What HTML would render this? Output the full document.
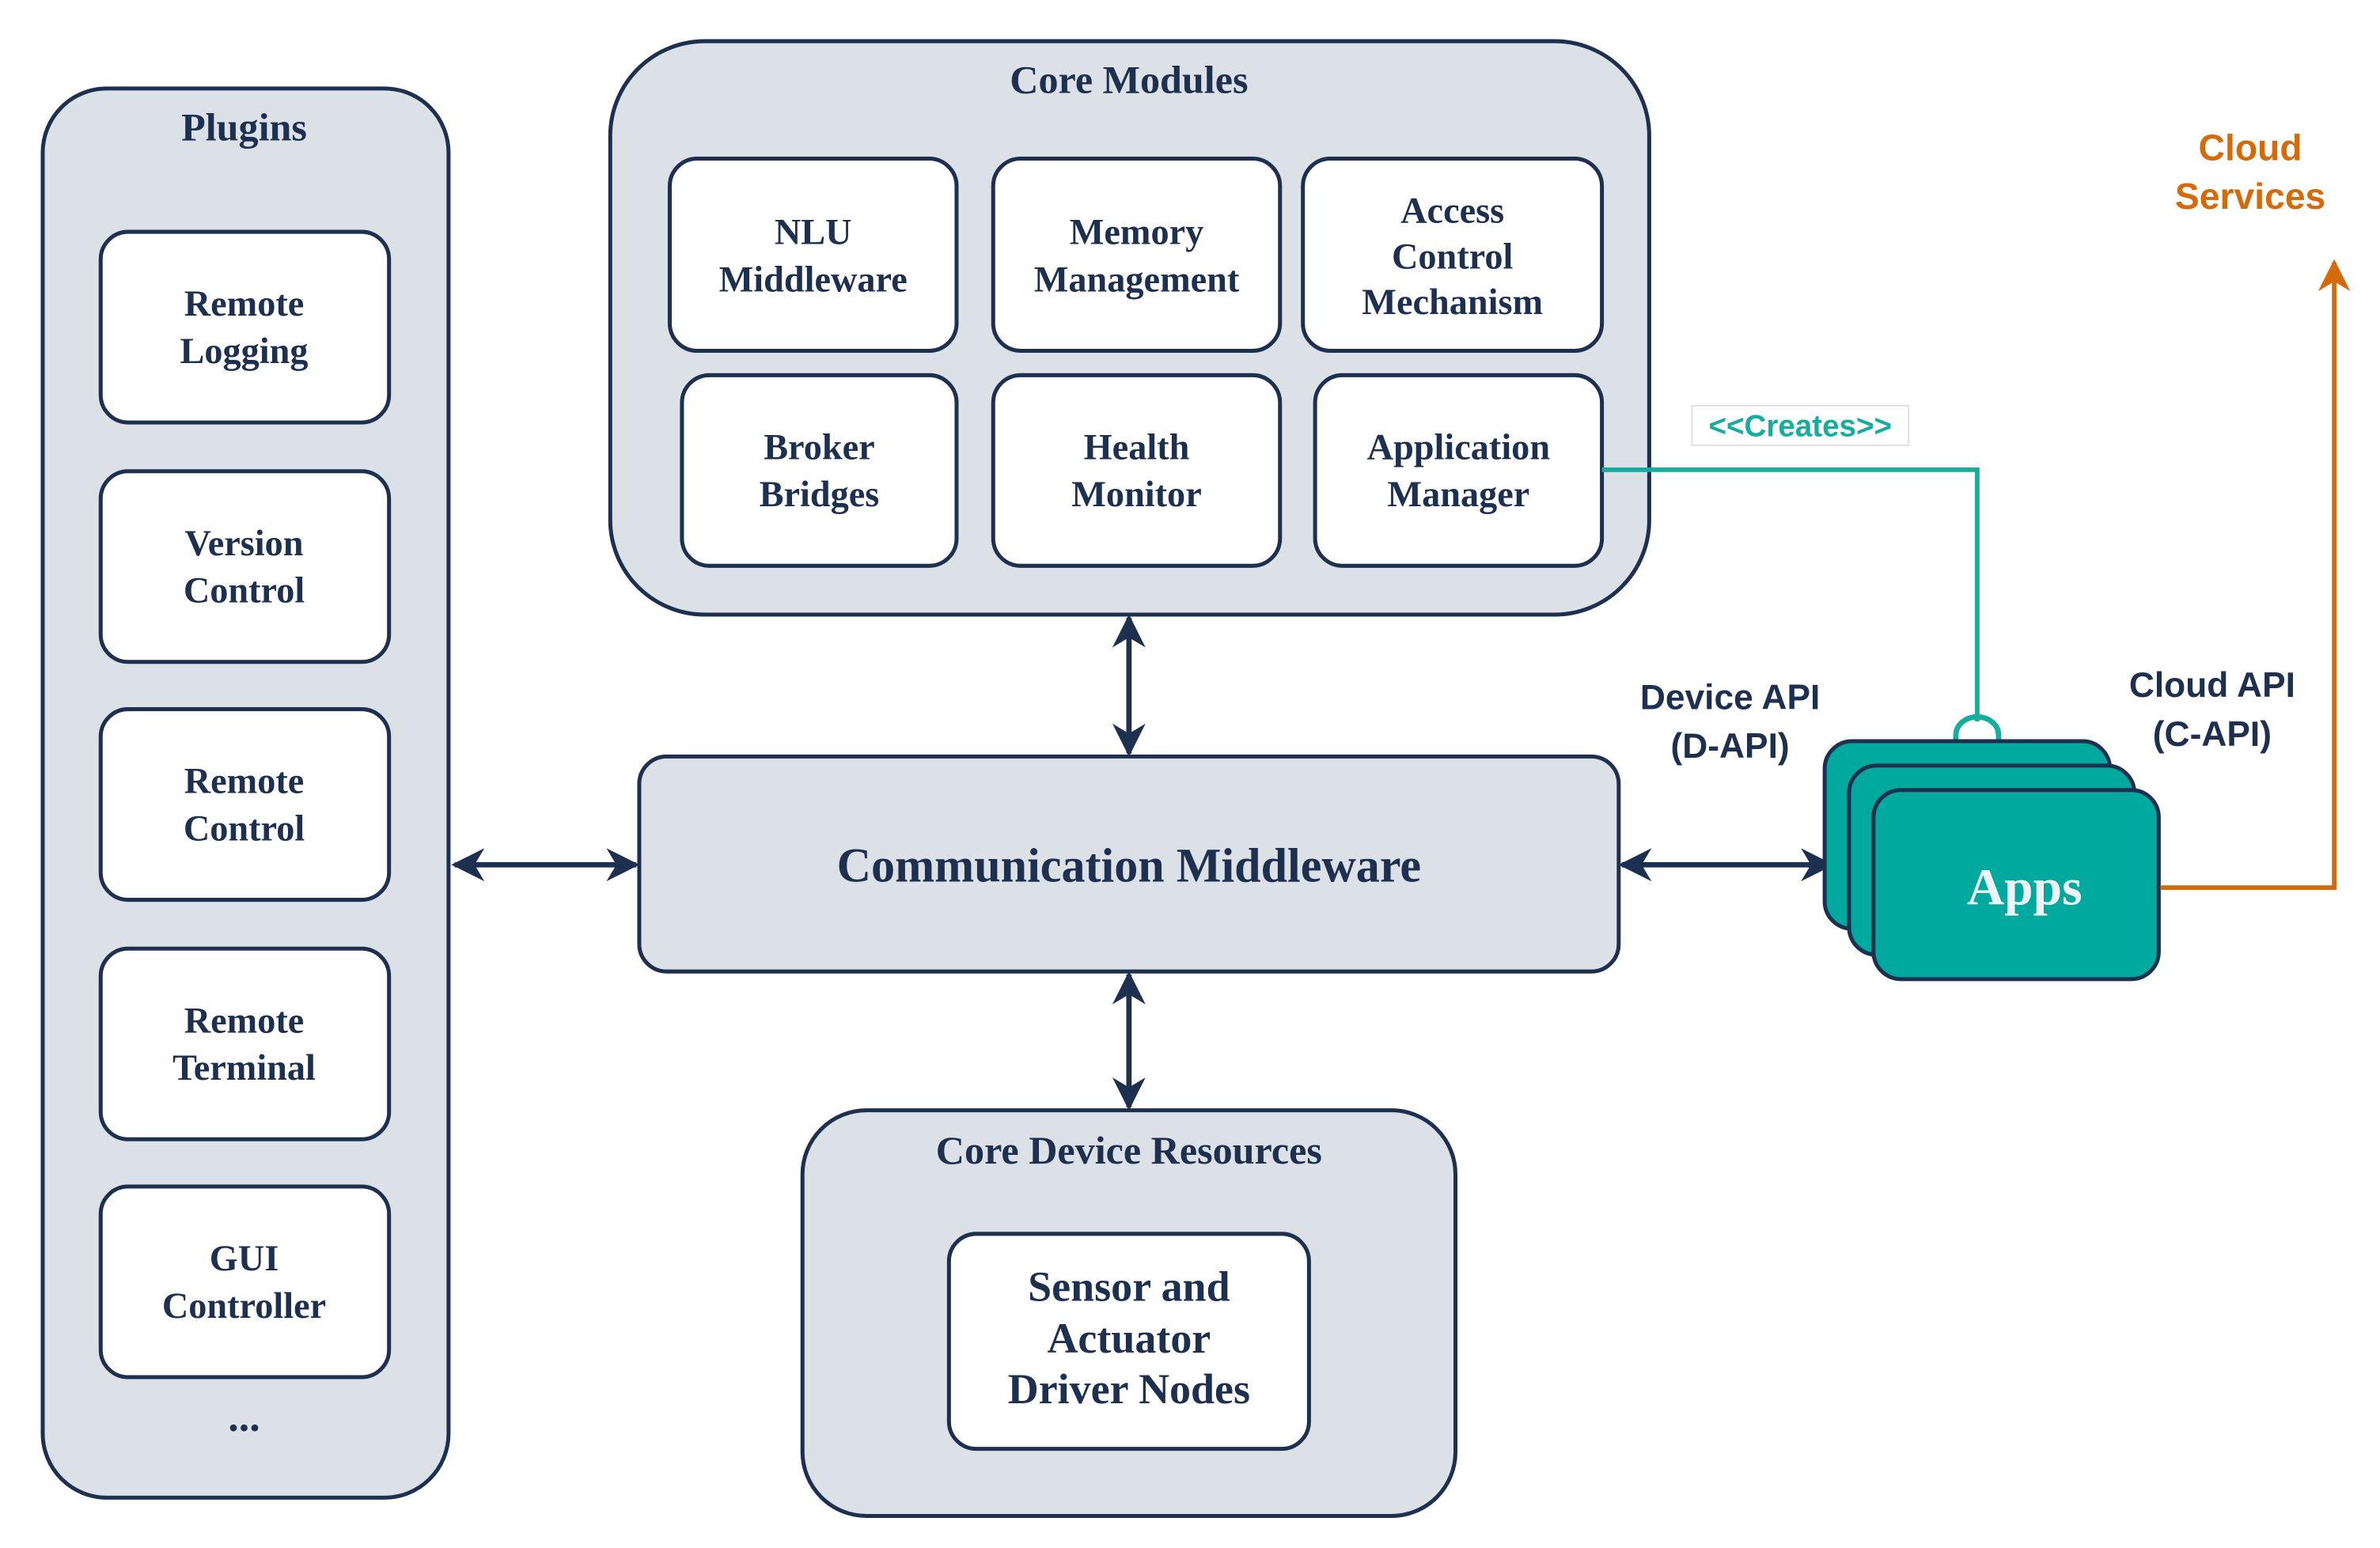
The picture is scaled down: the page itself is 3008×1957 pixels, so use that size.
<!DOCTYPE html>
<html><head><meta charset="utf-8"><style>
html,body{margin:0;padding:0;background:#fff;}
svg{display:block;}
.t{font-family:"Liberation Serif",serif;font-weight:bold;fill:#1e3050;text-anchor:middle;}
.s{font-family:"Liberation Sans",sans-serif;font-weight:bold;text-anchor:middle;}
</style></head><body>
<svg width="3008" height="1957" viewBox="0 0 1560 1015" preserveAspectRatio="none" xmlns="http://www.w3.org/2000/svg">
<defs>
<marker id="ah" viewBox="0 0 10 10" refX="9" refY="5" markerWidth="6.2" markerHeight="6.2" orient="auto-start-reverse"><path d="M0,0 L10,5 L0,10 L3,5 z" fill="#1e3050"/></marker>
<marker id="ao" viewBox="0 0 10 10" refX="9" refY="5" markerWidth="7" markerHeight="7" orient="auto"><path d="M0,0 L10,5 L0,10 L3,5 z" fill="#d46a0a"/></marker>
</defs>
<g stroke="#1e3050" stroke-width="2.6">
<rect x="28" y="58" width="266" height="924" rx="42" fill="#dce1e8"/>
<rect x="400" y="27" width="681" height="376" rx="62" fill="#dce1e8"/>
<rect x="419" y="496" width="642" height="141" rx="18" fill="#dce1e8"/>
<rect x="526" y="728" width="428" height="266" rx="42" fill="#dce1e8"/>
<g fill="#fff">
<rect x="66" y="152" width="189" height="125" rx="18"/>
<rect x="66" y="309" width="189" height="125" rx="18"/>
<rect x="66" y="465" width="189" height="125" rx="18"/>
<rect x="66" y="622" width="189" height="125" rx="18"/>
<rect x="66" y="778" width="189" height="125" rx="18"/>
<rect x="439" y="104" width="188" height="126" rx="18"/>
<rect x="651" y="104" width="188" height="126" rx="18"/>
<rect x="854" y="104" width="196" height="126" rx="18"/>
<rect x="447" y="246" width="180" height="125" rx="18"/>
<rect x="651" y="246" width="188" height="125" rx="18"/>
<rect x="862" y="246" width="188" height="125" rx="18"/>
<rect x="622" y="809" width="236" height="141" rx="18"/>
</g>
</g>
<g class="t" font-size="26">
<text x="160" y="92">Plugins</text>
<text x="740" y="61">Core Modules</text>
<text x="740" y="763">Core Device Resources</text>
</g>
<g class="t" font-size="24">
<text x="160" y="207">Remote</text><text x="160" y="238">Logging</text>
<text x="160" y="364">Version</text><text x="160" y="395">Control</text>
<text x="160" y="520">Remote</text><text x="160" y="551">Control</text>
<text x="160" y="677">Remote</text><text x="160" y="708">Terminal</text>
<text x="160" y="833">GUI</text><text x="160" y="864">Controller</text>
<text x="160" y="938" font-size="28">...</text>
<text x="533" y="160">NLU</text><text x="533" y="191">Middleware</text>
<text x="745" y="160">Memory</text><text x="745" y="191">Management</text>
<text x="952" y="146">Access</text><text x="952" y="176">Control</text><text x="952" y="206">Mechanism</text>
<text x="537" y="301">Broker</text><text x="537" y="332">Bridges</text>
<text x="745" y="301">Health</text><text x="745" y="332">Monitor</text>
<text x="956" y="301">Application</text><text x="956" y="332">Manager</text>
<text x="740" y="853" font-size="28">Sensor and</text><text x="740" y="887" font-size="28">Actuator</text><text x="740" y="920" font-size="28">Driver Nodes</text>
</g>
<text class="t" x="740" y="578" font-size="32" textLength="383" lengthAdjust="spacingAndGlyphs">Communication Middleware</text>
<g stroke="#1e3050" stroke-width="3.5" fill="none">
<line x1="740" y1="405" x2="740" y2="494" marker-start="url(#ah)" marker-end="url(#ah)"/>
<line x1="740" y1="639" x2="740" y2="726" marker-start="url(#ah)" marker-end="url(#ah)"/>
<line x1="298" y1="567" x2="417" y2="567" marker-start="url(#ah)" marker-end="url(#ah)"/>
<line x1="1063" y1="567" x2="1200" y2="567" marker-start="url(#ah)" marker-end="url(#ah)"/>
</g>
<path d="M1050,308 H1296 V473" stroke="#14ad9e" stroke-width="3" fill="none"/>
<path d="M1282,487 V482 A14,12 0 0 1 1310,482 V487" stroke="#14ad9e" stroke-width="3.5" fill="none"/>
<g stroke="#1e3050" stroke-width="2.6" fill="#00a99d">
<rect x="1196" y="486" width="187" height="123" rx="18"/>
<rect x="1212" y="502" width="187" height="124" rx="18"/>
<rect x="1228" y="518" width="187" height="124" rx="18"/>
</g>
<text x="1327" y="593" font-size="34" font-family="Liberation Serif,serif" font-weight="bold" fill="#eef3f7" text-anchor="middle">Apps</text>
<path d="M1416,582 H1530 V172" stroke="#d46a0a" stroke-width="3" fill="none" marker-end="url(#ao)"/>
<rect x="1109" y="266" width="142" height="26" fill="#fff" stroke="#e0e0e0" stroke-width="1"/>
<text class="s" x="1180" y="286" font-size="20" fill="#14ad9e">&lt;&lt;Creates&gt;&gt;</text>
<g class="s" font-size="23" fill="#1e3050">
<text x="1134" y="465">Device API</text><text x="1134" y="497">(D-API)</text>
<text x="1450" y="457">Cloud API</text><text x="1450" y="489">(C-API)</text>
</g>
<g class="s" font-size="24" fill="#d46a0a">
<text x="1475" y="105">Cloud</text><text x="1475" y="137">Services</text>
</g>
</svg>
</body></html>
